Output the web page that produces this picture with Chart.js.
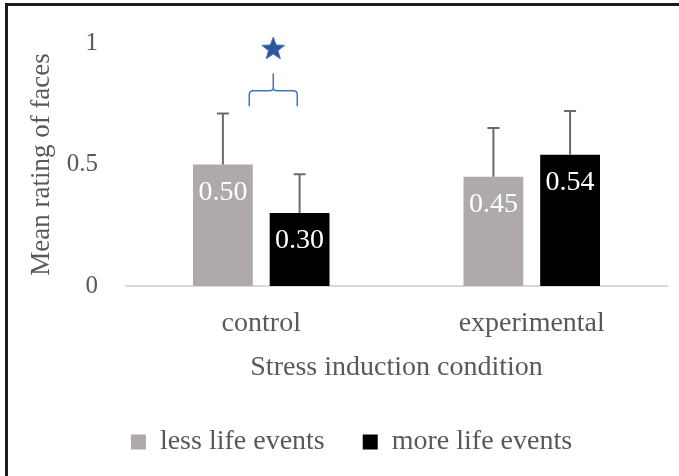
<!DOCTYPE html>
<html>
<head>
<meta charset="utf-8">
<script src="https://cdn.jsdelivr.net/npm/chart.js@4.4.1/dist/chart.umd.min.js"></script>
<style>
  html, body { margin: 0; padding: 0; background: #fff; }
  #wrap { position: relative; width: 679px; height: 476px; }
  #frame {
    position: absolute; left: 5px; top: 3px; right: 0; bottom: 0;
    border-left: 3px solid #1c1c1c; border-top: 3px solid #1c1c1c;
    pointer-events: none;
  }
</style>
</head>
<body>
<div id="wrap">
  <canvas id="chart" width="679" height="476"></canvas>
  <div id="frame"></div>
</div>
<script>
  const categories = ["control", "experimental"];
  const seriesNames = ["less life events", "more life events"];
  const lessValues = [0.50, 0.45];
  const moreValues = [0.30, 0.54];
  const lessErrors = [0.21, 0.20];
  const moreErrors = [0.16, 0.18];
  const yTicks = [0, 0.5, 1];

  const FONT = "'Liberation Serif', 'Times New Roman', serif";
  const TEXT = "#595959";

  const errorBars = {
    id: "errorBars",
    afterDatasetsDraw(chart) {
      const ctx = chart.ctx;
      const y = chart.scales.y;
      const errs = [lessErrors, moreErrors];
      ctx.save();
      ctx.strokeStyle = "#6b6b6b";
      ctx.lineWidth = 2;
      chart.data.datasets.forEach((ds, di) => {
        chart.getDatasetMeta(di).data.forEach((bar, i) => {
          const top = y.getPixelForValue(ds.data[i] + errs[di][i]);
          ctx.beginPath();
          ctx.moveTo(bar.x, bar.y);
          ctx.lineTo(bar.x, top);
          ctx.moveTo(bar.x - 6, top);
          ctx.lineTo(bar.x + 6, top);
          ctx.stroke();
        });
      });
      ctx.restore();
    }
  };

  const barLabels = {
    id: "barLabels",
    afterDatasetsDraw(chart) {
      const ctx = chart.ctx;
      ctx.save();
      ctx.fillStyle = "#ffffff";
      ctx.font = "28px " + FONT;
      ctx.textAlign = "center";
      ctx.textBaseline = "middle";
      chart.data.datasets.forEach((ds, di) => {
        chart.getDatasetMeta(di).data.forEach((bar, i) => {
          ctx.fillText(ds.data[i].toFixed(2), bar.x, bar.y + 28);
        });
      });
      ctx.restore();
    }
  };

  const significance = {
    id: "significance",
    afterDraw(chart) {
      const ctx = chart.ctx;
      const y = chart.scales.y;
      const b0 = chart.getDatasetMeta(0).data[0];
      const b1 = chart.getDatasetMeta(1).data[0];
      const cx = (b0.x + b1.x) / 2 + 12;
      const half = 24;
      const stemTop = y.getPixelForValue(0.874);
      const bar = y.getPixelForValue(0.804);
      const ends = y.getPixelForValue(0.74);

      // brace
      ctx.save();
      ctx.strokeStyle = "#4472c4";
      ctx.lineWidth = 1.5;
      ctx.beginPath();
      ctx.moveTo(cx, stemTop);
      ctx.lineTo(cx, bar - 3);
      ctx.quadraticCurveTo(cx, bar, cx - 4, bar);
      ctx.lineTo(cx - half + 4, bar);
      ctx.quadraticCurveTo(cx - half, bar, cx - half, bar + 4);
      ctx.lineTo(cx - half, ends);
      ctx.moveTo(cx, bar - 3);
      ctx.quadraticCurveTo(cx, bar, cx + 4, bar);
      ctx.lineTo(cx + half - 4, bar);
      ctx.quadraticCurveTo(cx + half, bar, cx + half, bar + 4);
      ctx.lineTo(cx + half, ends);
      ctx.stroke();

      // star
      const sy = y.getPixelForValue(0.975);
      const R = 12, r = 5;
      ctx.beginPath();
      for (let k = 0; k < 10; k++) {
        const rad = k % 2 === 0 ? R : r;
        const a = -Math.PI / 2 + k * Math.PI / 5;
        const px = cx + rad * Math.cos(a);
        const py = sy + rad * Math.sin(a);
        if (k === 0) ctx.moveTo(px, py); else ctx.lineTo(px, py);
      }
      ctx.closePath();
      ctx.fillStyle = "#2f5597";
      ctx.fill();
      ctx.strokeStyle = "#4472c4";
      ctx.lineWidth = 1;
      ctx.stroke();
      ctx.restore();
    }
  };

  // nudge the legend to the right so it sits where the reference has it
  const legendShift = {
    id: "legendShift",
    afterLayout(chart) {
      chart.legend.left += 18;
      chart.legend.right += 18;
    }
  };

  new Chart(document.getElementById("chart"), {
    type: "bar",
    data: {
      labels: categories,
      datasets: [
        { label: seriesNames[0], data: lessValues, backgroundColor: "#aeaaaa" },
        { label: seriesNames[1], data: moreValues, backgroundColor: "#000000" }
      ]
    },
    options: {
      responsive: false,
      animation: false,
      devicePixelRatio: 1,
      categoryPercentage: 0.567,
      barPercentage: 0.78,
      layout: { padding: { left: 0, right: 12, top: 40, bottom: 10 } },
      scales: {
        x: {
          grid: { display: false, drawTicks: false },
          border: { display: true, color: "#d9d9d9", width: 2 },
          ticks: { color: TEXT, font: { family: FONT, size: 28 }, padding: 21 },
          title: {
            display: true, text: "Stress induction condition",
            color: TEXT, font: { family: FONT, size: 28 }, padding: { top: 0, bottom: 6 }
          },
          afterFit(s) { s.height = 104; }
        },
        y: {
          min: 0, max: 1,
          grid: { display: false, drawTicks: false },
          border: { display: false },
          afterBuildTicks(s) { s.ticks = yTicks.map(v => ({ value: v })); },
          ticks: {
            color: TEXT, font: { family: FONT, size: 25 }, padding: 28,
            callback: v => String(v)
          },
          title: {
            display: true, text: "Mean rating of faces",
            color: TEXT, font: { family: FONT, size: 27 }, padding: { top: 26, bottom: 0 }
          },
          afterFit(s) { s.width = 126; }
        }
      },
      plugins: {
        legend: {
          position: "bottom",
          labels: {
            color: TEXT, font: { family: FONT, size: 28 },
            boxWidth: 15, boxHeight: 15, padding: 38
          }
        },
        tooltip: { enabled: false }
      }
    },
    plugins: [errorBars, barLabels, significance, legendShift]
  });
</script>
</body>
</html>
